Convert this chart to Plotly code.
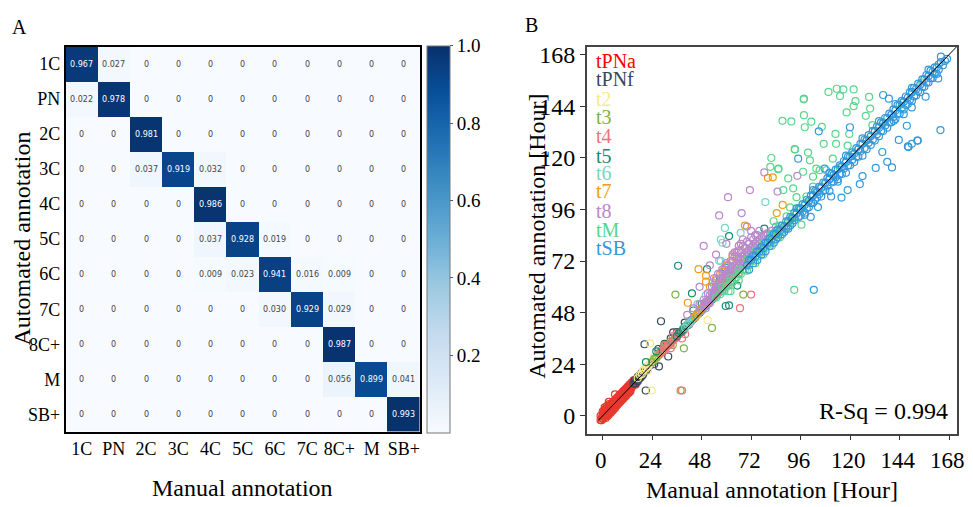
import plotly.graph_objects as go

# ---------------- Panel A data: confusion matrix ----------------
classes = ["1C", "PN", "2C", "3C", "4C", "5C", "6C", "7C", "8C+", "M", "SB+"]
cm_values = [
    [0.967, 0.027, 0, 0, 0, 0, 0, 0, 0, 0, 0],
    [0.022, 0.978, 0, 0, 0, 0, 0, 0, 0, 0, 0],
    [0, 0, 0.981, 0, 0, 0, 0, 0, 0, 0, 0],
    [0, 0, 0.037, 0.919, 0.032, 0, 0, 0, 0, 0, 0],
    [0, 0, 0, 0, 0.986, 0, 0, 0, 0, 0, 0],
    [0, 0, 0, 0, 0.037, 0.928, 0.019, 0, 0, 0, 0],
    [0, 0, 0, 0, 0.009, 0.023, 0.941, 0.016, 0.009, 0, 0],
    [0, 0, 0, 0, 0, 0, 0.030, 0.929, 0.029, 0, 0],
    [0, 0, 0, 0, 0, 0, 0, 0, 0.987, 0, 0],
    [0, 0, 0, 0, 0, 0, 0, 0, 0.056, 0.899, 0.041],
    [0, 0, 0, 0, 0, 0, 0, 0, 0, 0, 0.993],
]
cbar_ticks = [0.2, 0.4, 0.6, 0.8, 1.0]

# ---------------- Panel B data: (manual, automated) hours ----------------
hour_ticks = [0, 24, 48, 72, 96, 120, 144, 168]
r_sq = 0.994

tPNa_pts = [(-1,-2),(-0.5,-1),(0,0.5),(0,-1.5),(0.5,1.5),(1,2.5),(1,-0.5),(1.5,0),(2,3.5),(2,1),(2.5,1.5),(3,4.5),(3,2),
    (3.5,3),(4,5.5),(4,2.5),(4.5,4),(5,6.5),(5,3.5),(5.5,5),(6,7.5),(6,4.5),(6.5,6),(7,8.5),(7,5.5),(7.5,7),(8,9.5),(8,7),
    (8.5,8),(9,10.5),(9,8),(9.5,9.5),(10,11.5),(10,9),(10.5,10),(11,12.5),(11,10),(11.5,11.5),(12,13),(12,11),(12.5,12),
    (13,14.5),(13,12),(13.5,13),(14,15.5),(14,13),(14.5,14),(15,15),(15.5,15),(16,16),(1,3),(2,4.5),(3,5.5),(4,1.5),(5,2.5),
    (6,3.5),(7,5),(6,10),(9,7),(10,8),(11,9),(12,13.5),(13,11),(3,0.5),(0,-1),(2,0.5),(4,2.5),(8,6),(1,1),(11,12),(7,7),
    (9,9),(5,5),(3,3),(15,16.5),(16,14.5),
    (0.5,-0.5),(1.5,2),(2.5,3),(3.5,4.5),(4.5,5.5),(5.5,6.5),(6.5,7.5),(7.5,8.5),(8.5,9.5),(9.5,10.5),(10.5,11.5),
    (11.5,12.5),(12.5,13.5),(13.5,14.5),(14.5,15.5),(1.5,-1),(2.5,0),(3.5,1.5),(4.5,2.5),(5.5,3.5),(6.5,4.5),(7.5,5.5),
    (8.5,6.5),(9.5,7.5),(10.5,8.5),(11.5,9.5),(12.5,10.5),(13.5,11.5),(-1,0),(0,2),(-0.5,-2),(1,4),(3,6.5)]
tPNf_pts = [(15,15),(15.5,16.5),(16,15),(16.5,17),(17,16),(17,18),(17.5,17),(18,17.5),(18,19),(18.5,18),(19,18.5),(19,20),
    (19.5,19),(20,20),(20,21),(21,21),(21.5,22),(22,22.5),(23,23.5),(24,25),(26,27),(27,29),(29,31),(31,33),(20.3,33.3),
    (20.9,11.8),(28.3,44),(34.2,38.8),(39.8,43.4),(27,31.1),(31.8,27.6),(27.3,23),(33,36),(36,39),(25,24),(30,33.5)]
t2_pts = [(17,17.5),(18,19),(19,19.5),(19.5,21),(20,21.5),(21,22),(21.5,23),(22,23),(23,24),(23.5,25),(24,25.5),(25,26),
    (26,27),(27,28.5),(28,29),(23,33.7),(23.8,11.8),(50.9,44.5),(29,30.5),(30,31),(22,21),(25,27.5)]
t3_pts = [(24,25),(25,26.5),(26,27),(27,28),(28,29.5),(29,30),(30,31.5),(31,32),(32,33),(33,34.5),(34,35),(35,36),(36,37.5),
    (37,38),(38,39),(39,40.5),(40,41),(41,42),(35.3,56.4),(53,40.9),(39.4,31.4),(68.2,56.4),(37.8,11.8),(30,33),(34,33),(42,44)]
t4_pts = [(28,29),(29,30),(30,30.5),(31,32),(32,33),(33,33.5),(34,35),(35,36),(36,36.5),(37,38),(38,39),(39,39.5),(40,41),
    (41,42),(42,42.5),(43,44),(44,45),(45,46),(72,56.4),(66.6,50.1),(38.5,11.8),(30,32.5),(33,31.5),(36,38.5),(40,38),
    (47,48),(38.5,36),(34,37)]
t5_pts = [(36,37),(37,38.5),(38,39),(39,40),(40,41.5),(41,42),(42,43),(43,44.5),(44,45),(45,46),(46,47.5),(47,48),(48,49),
    (49,50.5),(50,51),(51,52),(52,53.5),(53,54),(54,55),(56,57),(58,59),(60,61),(36.6,69.8),(50.6,68.2),(43.3,57),
    (61.3,83.6),(61.3,51.4),(65.3,60.6),(59.7,51.1),(59.4,69),(78.4,87.1),(48,52),(55,60),(44,49),(57,64),(21,25),(26,30)]
t6_pts = [(40,41),(41,42.5),(42,43),(43,44),(44,45.5),(45,46),(46,47),(47,48.5),(48,49),(49,50),(50,51.5),(51,52),(52,53),
    (53,54.5),(54,55),(55,56),(56,57.5),(57,58),(58,59),(60,61.5),(62,63),(59.3,87.4),(78.9,99.4),(56.5,72.1),(58.1,80.5),
    (66.9,85.1),(57.3,72.1),(62.1,69),(50,56),(54,61),(46,52),(63,68),(61,58),(66,73),(70,76),(57.3,82)]
t7_pts = [(45,46),(46,47.5),(47,49),(48,50),(49,51),(50,52.5),(51,53),(52,54),(53,55.5),(54,56),(55,57),(56,58.5),(57,59),
    (58,61),(59,62),(60,63),(61,64),(62,65),(63,66),(64,67),(65,67.5),(66,69),(68,71),(70,73),(80.1,110.7),(82.5,110.9),
    (87.3,98.1),(84.4,94.3),(69,88.5),(46.5,68.2),(50.1,65.2),(50.1,62.4),(41.3,52.6),(53.3,62.1),(55,64),(58,67),(60,70),
    (63,74),(67,77),(52,60)]
t8_pts = [(48,49),(49,51),(50,50),(50,53),(51,52),(52,54),(52,56),(53,55),(54,55),(54,58),(55,57),(55,60),(56,58),(56,61),
    (57,59),(57,62),(58,60),(58,64),(59,61),(59,63),(60,62),(60,66),(61,63),(61,65),(62,64),(62,68),(63,65),(63,67),(64,66),
    (64,70),(65,67),(65,69),(66,68),(66,72),(67,69),(67,71),(68,70),(68,74),(69,71),(69,73),(70,72),(70,76),(71,73),(71,75),
    (72,74),(72,78),(73,75),(73,77),(74,76),(74,80),(75,77),(75,79),(76,78),(76,82),(77,79),(78,80),(78,84),(79,81),(80,82),
    (80,85),(81,83),(82,84),(83,85),(84,86),(85,87),(62,72),(64,74),(66,77),(68,79),(70,81),(72,83),(60,71),(58,68),(56,66),
    (54,64),(74,84),(76,86),(65,76),(67,80),(63,75),(71.4,105),(60.8,101.7),(56.5,93.2),(67.4,94.3),(49,79),(78.4,113.2),
    (94.4,111.6),(84.8,104.3),(52,70),(47,60),(55,75),(60,80),(70,88),(44,50),(41,47),(58,58),(66,66),
    (50,51.5),(51,54),(52,52.5),(53,57),(54,56.5),(55,58.5),(56,59.5),(57,60.5),(58,62),(59,65),(60,64),(61,67),(62,66),
    (63,69),(64,68),(65,71),(66,70),(67,73),(68,72),(69,75),(70,74),(71,77),(72,76),(73,79),(74,78),(75,81),(76,80),(77,83),
    (78,82),(79,84),(80,84),(82,86),(84,88),(61,70),(63,72),(65,74),(67,76),(69,78),(71,80),(73,82),(75,84),(59,68),(57,66),
    (55,63),(53,60),(51,57),(49,54),(47,52),(64,76),(68,82),(72,86),(66,79)]
tM_pts = [(60,60),(62,62.5),(64,64),(66,66.5),(68,68),(70,70.5),(72,72),(74,74.5),(76,76),(78,78.5),(80,80),(82,82.5),
    (84,84),(86,86.5),(88,88),(90,90.5),(92,92),(94,94.5),(96,96),(98,98.5),(100,100),(102,102.5),(104,104),(106,106.5),
    (108,108),(110,110.5),(112,112),(115,115.5),(118,118),(121,121.5),(124,124),(128,128.5),(132,132),(136,136.5),(140,140),
    (145,145.5),(150,150.5),(155,155),(66,63),(70,67.5),(74,71),(78,75),(82,79),(62,58),(86,83),(90,88),
    (97.6,147.5),(109.5,150.6),(113.5,152.1),(116.7,151.8),(121.7,151.8),(115.1,148.7),(129.2,148.3),(122.6,146.3),
    (121.7,144),(97.6,139.8),(87.2,137.2),(91.5,136.9),(98,134.2),(101.2,136.8),(118.3,141.1),(129.7,142.9),(127.6,139.5),
    (130.8,135.2),(106.3,134.4),(93.1,124),(99.6,122.4),(85.1,114.7),(90,110.4),(97.2,113.5),(107.2,126.5),(112.9,131.1),
    (113.2,126.5),(119.6,131.1),(118.8,125.7),(111.6,119.6),(103.6,115),(92.4,105.8),(94,101.7),(90.9,96.9),(96.4,88.9),
    (89.2,92.8),(102,111.2),(108.4,114.2),(92.9,58.6),(81.8,119.9),(81.3,115.8),(85.3,115),(87.6,105),(82.9,90.5),
    (91.6,92),(95.7,96.6),(98.8,102),(102,106.6),(105.2,114.2),(100.5,118.8),(93.3,123.9),(97.5,147.2),
    (55,55),(57,56.5),(59,58),(61,60.5),(63,62),(65,64.5),(67,66),(69,68),(71,70),(73,72),(75,74),(77,76),(79,78),(81,80),
    (83,82),(85,84),(87,86),(89,88),(91,90),(93,92),(58,60),(62,64),(66,68),(70,72.5),(74,76.5),(78,80.5),(82,84.5),(86,88.5)]
tSB_pts = [(70,70),(72,72.5),(74,74),(76,76.5),(78,78),(80,80.5),(82,82),(84,84.5),(86,86),(88,88),(90,90.5),(92,92),
    (94,94),(96,96.5),(98,98),(100,100),(102,102.5),(104,104),(106,106),(108,108.5),(110,110),(112,112),(114,114.5),
    (116,116),(118,118),(120,120.5),(122,122),(124,124),(126,126.5),(128,128),(130,130),(132,132.5),(134,134),(136,136),
    (138,138.5),(140,140),(142,142),(144,144.5),(146,146),(148,148),(150,150.5),(152,152),(154,154),(156,156.5),(158,158),
    (160,160),(162,162),(164,164.5),(166,165),(84,82),(88,85.5),(92,89.5),(96,93),(100,97),(104,101.5),(108,105),(112,109),
    (116,112.5),(120,116.5),(124,120.5),(128,124),(132,128),(136,132.5),(140,136.5),(144,140.5),(148,145),(152,149),
    (156,153),(160,157),(90,87),(98,94.5),(106,102),(114,110),(122,118),(130,126),(138,134),(146,142.5),(154,150.5),
    (110,104.5),(118,113),(126,121),(134,130),(142,138),(102,99),(150,146.5),(158,155),(162,159),(94,96.5),(102,105),
    (110,113),(118,121),(126,129),(134,137),(142,145),(150,152.5),(158,161),(164,167),
    (136,149.2),(138.8,147.5),(163.8,132.9),(147.5,134.9),(143.6,128.3),(148,125.3),(152.6,128),(149.9,126.5),(135.6,122.7),
    (138,118.1),(140.3,115.5),(132.4,115.3),(126,111.5),(124.7,107.8),(118.8,105),(115.8,101.5),(110.8,102),(104.4,97.1),
    (100.9,92.5),(98,93.5),(94.8,119.6),(104.8,132.3),(119.9,134.2),(162.7,156.9),(156.6,148.4),(149.9,143.4),(146,140.3),
    (141.2,137.2),(107.6,115),(114,108.9),(148.3,125),(152.8,128),(102.4,58.6),
    (71,68),(71,72.5),(73,71),(73,74.5),(75,72.5),(75,76.5),(77,75),(77,78.5),(79,76.5),(79,80.5),(81,79),(81,82.5),(83,80.5),
    (83,84.5),(85,83),(85,86.5),(87,84.5),(87,88.5),(89,87),(89,90.5),(91,88.5),(91,92.5),(93,91),(93,94.5),(95,92.5),
    (95,96.5),(97,95),(97,98.5),(99,96.5),(99,100.5),(101,99),(101,102.5),(103,100.5),(103,104.5),(105,103),(105,106.5),
    (107,104.5),(107,108.5),(109,107),(109,110.5),(111,108.5),(111,112.5),(113,111),(113,114.5),(115,112.5),(115,116.5),
    (117,115),(117,118.5),(119,116.5),(119,120.5),(121,119),(121,122.5),(123,120.5),(123,124.5),(125,123),(125,126.5),
    (127,124.5),(127,128.5),(129,127),(129,130.5),(131,128.5),(131,132.5),(133,131),(133,134.5),(135,132.5),(135,136.5),
    (137,135),(137,138.5),(139,136.5),(139,140.5),(141,139),(141,142.5),(143,140.5),(143,144.5),(145,143),(145,146.5),
    (147,144.5),(147,148.5),(149,147),(149,150.5),(151,148.5),(151,152.5),(153,151),(153,154.5),(155,153),(155,156.5),
    (157,155),(157,158.5),(159,157),(159,160.5),(161,159),(161,162),(163,161),(163,163.5),(165,163),(167,166)]

series = [
    ("tPNa", tPNa_pts, "#e8392f", "#ff0000"),
    ("tPNf", tPNf_pts, "#34495e", "#34495e"),
    ("t2", t2_pts, "#f7e98e", "#f7e98e"),
    ("t3", t3_pts, "#7cb342", "#7cb342"),
    ("t4", t4_pts, "#f1707b", "#f1707b"),
    ("t5", t5_pts, "#138d75", "#138d75"),
    ("t6", t6_pts, "#76d7c4", "#76d7c4"),
    ("t7", t7_pts, "#f39c12", "#f39c12"),
    ("t8", t8_pts, "#b888cc", "#b888cc"),
    ("tM", tM_pts, "#58d68d", "#58d68d"),
    ("tSB", tSB_pts, "#3498db", "#3498db"),
]
legend_y_px = [57, 75, 95, 113, 132, 152, 170, 188, 208, 227, 245]

W, H = 973, 507
def px(x): return x / W
def py(y): return 1 - y / H

SERIF = "Liberation Serif, Times New Roman, serif"
blues = [[0.0, "#f7fbff"], [0.125, "#deebf7"], [0.25, "#c6dbef"], [0.375, "#9ecae1"], [0.5, "#6baed6"],
         [0.625, "#4292c6"], [0.75, "#2171b5"], [0.875, "#08519c"], [1.0, "#08306b"]]

fig = go.Figure()

cell_text = [["0" if v == 0 else f"{v:.3f}" for v in row] for row in cm_values]
fig.add_trace(go.Heatmap(
    z=cm_values, x=classes, y=classes, text=cell_text, texttemplate="%{text}",
    textfont=dict(size=8, family="DejaVu Sans"),
    colorscale=blues, zmin=0, zmax=1, xgap=0, ygap=0,
    xaxis="x", yaxis="y",
    colorbar=dict(x=px(430), xanchor="left", xpad=0, ypad=0, thickness=23, thicknessmode="pixels",
                  len=387, lenmode="pixels", y=py(236.5), yanchor="middle",
                  tickvals=cbar_ticks, ticktext=[f"{t:.1f}" for t in cbar_ticks],
                  ticks="outside", ticklen=3, tickcolor="#555",
                  tickfont=dict(family=SERIF, size=19, color="black"),
                  outlinecolor="#777", outlinewidth=1),
    hoverinfo="skip",
))

for name, pts, mcol, _ in series:
    fig.add_trace(go.Scatter(
        x=[p[0] for p in pts], y=[p[1] for p in pts], mode="markers", name=name,
        marker=dict(symbol="circle-open", size=7, color=mcol, line=dict(width=1.2, color=mcol)),
        xaxis="x2", yaxis="y2", hoverinfo="skip",
    ))

fig.add_trace(go.Scatter(x=[-2, 171.8], y=[-2, 171.8], mode="lines", line=dict(color="black", width=1),
                         xaxis="x2", yaxis="y2", hoverinfo="skip"))

axis_common = dict(showgrid=False, zeroline=False, showline=True, mirror=True)
fig.update_layout(
    width=W, height=H, margin=dict(l=0, r=0, t=0, b=0),
    paper_bgcolor="white", plot_bgcolor="white", showlegend=False,
    xaxis=dict(domain=[px(66), px(423)], anchor="y", type="category", ticks="",
               tickfont=dict(family=SERIF, size=18, color="black"), linecolor="black", linewidth=1.5,
               **axis_common),
    yaxis=dict(domain=[py(431), py(42)], anchor="x", type="category", autorange="reversed", ticks="",
               tickfont=dict(family=SERIF, size=18, color="black"), linecolor="black", linewidth=1.5,
               **axis_common),
    xaxis2=dict(domain=[px(591), px(964)], anchor="y2", range=[-7.7, 171.85], autorange=False,
                tickvals=hour_ticks, ticks="outside", ticklen=5, tickcolor="#333", ticklabelshift=-2,
                ticklabeloverflow="allow",
                tickfont=dict(family=SERIF, size=23, color="black"), linecolor="#444", linewidth=1.5,
                **axis_common),
    yaxis2=dict(domain=[py(433), py(42)], anchor="x2", range=[-8.3, 171.7], autorange=False,
                tickvals=hour_ticks, ticks="outside", ticklen=5, tickcolor="#333",
                tickfont=dict(family=SERIF, size=24, color="black"), linecolor="#444", linewidth=1.5,
                **axis_common),
)

ann = []
def add_text(text, x, y, size, color="black", angle=0, xanchor="center", yanchor="middle"):
    ann.append(dict(text=text, x=x, y=y, xref="paper", yref="paper", showarrow=False, textangle=angle,
                    xanchor=xanchor, yanchor=yanchor, font=dict(family=SERIF, size=size, color=color)))

add_text("A", px(20), py(22), 20)
add_text("B", px(535), py(20), 20)
add_text("Automated annotation", px(22), py(236), 24, angle=-90)
add_text("Manual annotation", px(244), py(488), 24)
add_text("Automated annotation [Hour]", px(541), py(234), 24, angle=-90)
add_text("Manual annotation [Hour]", px(778), py(490), 24)
for (name, _, _, tcol), yc in zip(series, legend_y_px):
    add_text(name, px(598), py(yc), 20, color=tcol, xanchor="left")
add_text(f"R-Sq = {r_sq}", px(957), py(410), 24, xanchor="right")
fig.update_layout(annotations=ann)

# keep anything drawn at the very edge from widening the page
clip_js = ("var d=document.getElementById('{plot_id}'); if(d){d.style.overflow='hidden';}"
           "document.body.style.overflow='hidden';document.documentElement.style.overflow='hidden';"
           "document.body.style.margin='0';")
fig.write_html("out.html", post_script=clip_js)
